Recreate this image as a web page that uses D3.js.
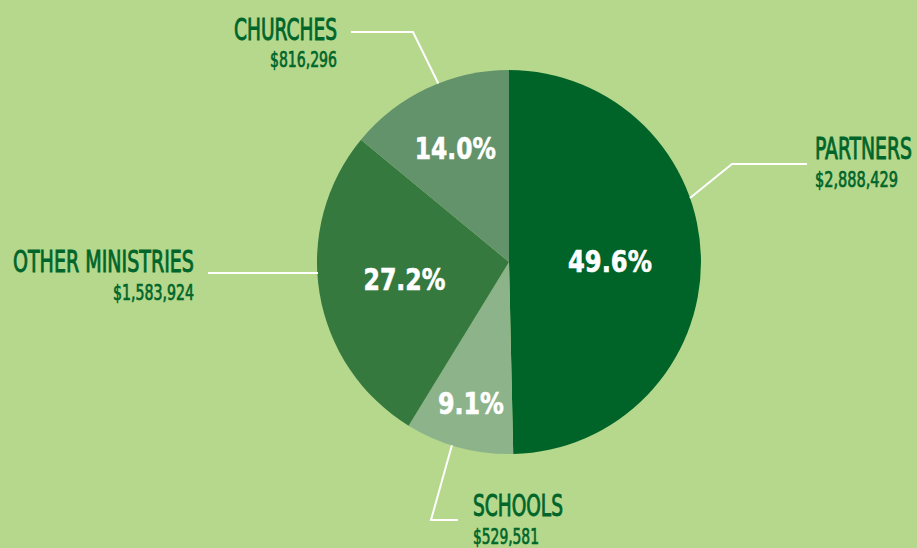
<!DOCTYPE html>
<html><head><meta charset="utf-8">
<script src="https://cdn.jsdelivr.net/npm/d3@7"></script>
<style>html,body{margin:0;padding:0;background:#b5d88c;}svg{display:block;}</style>
</head><body>
<svg id="chart" width="917" height="548"></svg>
<script>
// ---- data ----
const categories = ["PARTNERS", "SCHOOLS", "OTHER MINISTRIES", "CHURCHES"];
const amounts = ["$2,888,429", "$529,581", "$1,583,924", "$816,296"];
const percents = [49.6, 9.1, 27.2, 14.0];
const colors = ["#006327", "#8db38b", "#35793f", "#62936a"];

// ---- layout ----
const W = 917, H = 548, cx = 509, cy = 262, R = 192;
const pctRadius = [101, 146, 106, 126];
const pctWidth = [84, 66, 82, 81];
const leaders = [
  {edge: 70.5, elbow: [732, 164], end: [807, 164], anchor: "start", lx: 815, ly: 159, vy: 187, lw: 97, vw: 83},
  {edge: 197.3, elbow: [431, 520], end: [458, 520], anchor: "start", lx: 473, ly: 516, vy: 544, lw: 90, vw: 66},
  {edge: 266.7, elbow: [318, 273], end: [208, 273], anchor: "end", lx: 194, ly: 272, vy: 300, lw: 181, vw: 81},
  {edge: 338.4, elbow: [413, 32], end: [351, 32], anchor: "end", lx: 337, ly: 40, vy: 67, lw: 103, vw: 67}
];

const svg = d3.select("#chart");
svg.append("rect").attr("width", W).attr("height", H).attr("fill", "#b5d88c");

const pie = d3.pie().sort(null).value(d => d);
const arcs = pie(percents);
const arc = d3.arc().innerRadius(0).outerRadius(R);
const g = svg.append("g").attr("transform", `translate(${cx},${cy})`);
g.selectAll("path").data(arcs).join("path")
  .attr("d", arc).attr("fill", (d, i) => colors[i]);

const font = "'Liberation Sans Narrow','DejaVu Sans Condensed','Arial Narrow',sans-serif";

function fitText(parent, str, x, y, anchor, width, size, weight, fill, stroke, sw) {
  const t = parent.append("text")
    .attr("font-family", font).attr("font-size", size).attr("font-weight", weight)
    .attr("fill", fill).attr("text-anchor", "start").text(str);
  if (stroke) t.attr("stroke", stroke).attr("stroke-width", sw);
  const nat = t.node().getComputedTextLength();
  const sx = width / nat;
  const x0 = anchor === "start" ? x : anchor === "end" ? x - width : x - width / 2;
  t.attr("transform", `translate(${x0},${y}) scale(${sx},1)`);
  return t;
}

arcs.forEach((d, i) => {
  const c = d3.arc().innerRadius(pctRadius[i]).outerRadius(pctRadius[i]).centroid(d);
  fitText(g, d.data.toFixed(1) + "%", c[0], c[1] + 11, "middle", pctWidth[i], 31, "bold", "#ffffff", "#ffffff", 0.6);
});

leaders.forEach((L, i) => {
  const a = L.edge * Math.PI / 180;
  const p0 = [cx + R * Math.sin(a), cy - R * Math.cos(a)];
  svg.append("polyline")
    .attr("points", [p0, L.elbow, L.end].map(p => p.join(",")).join(" "))
    .attr("fill", "none").attr("stroke", "#ffffff").attr("stroke-width", 2);
  fitText(svg, categories[i], L.lx, L.ly, L.anchor, L.lw, 30, "normal", "#00652b", "#00652b", 0.9);
  fitText(svg, amounts[i], L.lx, L.vy, L.anchor, L.vw, 22, "normal", "#00652b", "#00652b", 0.7);
});
</script>
</body></html>
